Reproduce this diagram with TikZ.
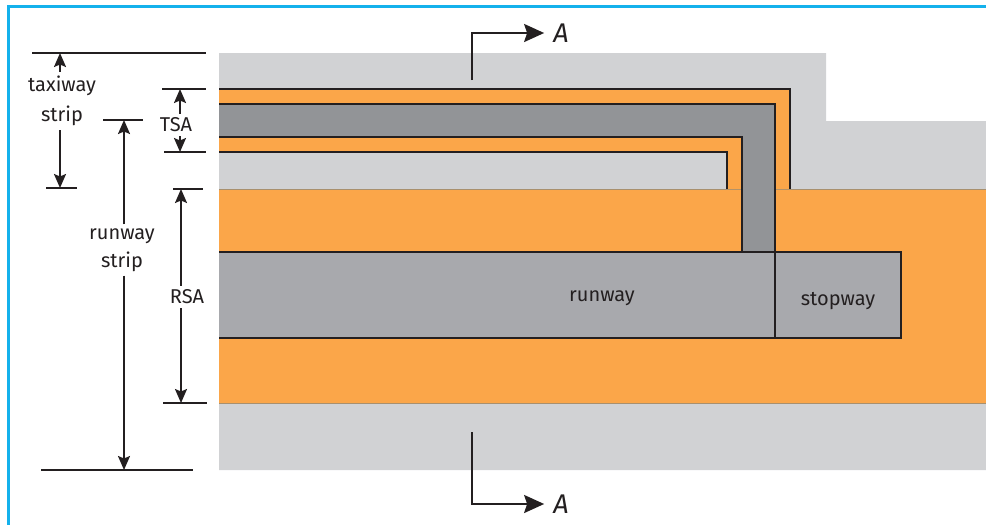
\documentclass[tikz,border=0pt]{standalone}
\usepackage{fontspec}
\setmainfont{Fira Sans}
\usetikzlibrary{arrows.meta}
\definecolor{framecolor}{HTML}{14B1EC}
\definecolor{stripgrey}{HTML}{D1D2D4}
\definecolor{safeorange}{HTML}{FBA649}
\definecolor{taxigrey}{HTML}{929497}
\definecolor{runwaygrey}{HTML}{A8A9AD}
\definecolor{inkblack}{HTML}{231F20}
\definecolor{edgebrown}{HTML}{A8906E}
\tikzset{
	tickline/.style={draw=inkblack, line width=2pt},
	dimarrow/.style={draw=inkblack, line width=1.9pt, -{Stealth[length=14pt,width=12pt,inset=2.5pt]}},
	sectionarrow/.style={draw=inkblack, line width=2.2pt, shorten >=9pt, -{Stealth[length=20pt,width=18pt,inset=3pt]}},
	pave/.style={draw=inkblack, line width=2.2pt},
	slab/.style={draw=inkblack, line width=2.8pt, fill=runwaygrey},
	dimlabel/.style={font=\fontsize{20}{28}\selectfont, text=inkblack, align=center, inner sep=4pt},
	sectionmark/.style={font=\fontsize{27}{27}\selectfont\itshape, text=inkblack, inner sep=0pt}
}
\begin{document}
\begin{tikzpicture}[x=1pt, y=-1pt]
	\useasboundingbox (0,0) rectangle (986,525);
	\draw [framecolor, line width=3pt] (8.5,525) -- (8.5,6.5) -- (986,6.5);

	% grounds
	\fill [stripgrey] (219,53) -- (826,53) -- (826,121) -- (986,121) -- (986,470) -- (219,470) -- cycle;
	\fill [safeorange] (219,189) rectangle (986,403);
	\draw [edgebrown, line width=0.8pt] (219,189) -- (986,189) (219,403) -- (986,403);

	% taxiway
	\fill [safeorange] (219,89) -- (790,89) -- (790,189) -- (727,189) -- (727,152) -- (219,152) -- cycle;
	\draw [pave] (219,89) -- (790,89) -- (790,189);
	\draw [pave] (219,152) -- (727,152) -- (727,189);
	\fill [taxigrey] (219,104) -- (775,104) -- (775,252) -- (742,252) -- (742,137) -- (219,137) -- cycle;
	\draw [pave] (219,104) -- (775,104) -- (775,252);
	\draw [pave] (219,137) -- (742,137) -- (742,252);

	% runway and stopway
	\fill [runwaygrey] (219,252) rectangle (775,338);
	\draw [pave, line width=2.8pt] (219,252) -- (775,252) (219,338) -- (775,338);
	\node [slab, minimum width=126pt, minimum height=86pt, inner sep=0pt, outer sep=0pt] (stopwaybox) at (838,295) {};
	\node [dimlabel] (runwaylabel) at (602,298) {runway};
	\node [dimlabel] (stopwaylabel) at (838,301) {stopway};

	% ticks
	\coordinate (taxitop) at (60,53);
	\coordinate (taxibot) at (60,188);
	\coordinate (tsatop) at (180,89);
	\coordinate (tsabot) at (180,152);
	\coordinate (rsatop) at (181,189);
	\coordinate (rsabot) at (181,403);
	\coordinate (striptop) at (124,120);
	\coordinate (stripbot) at (124,470);
	\draw [tickline] (32,53) -- (206,53);
	\draw [tickline] (46,188) -- (77,188);
	\draw [tickline] (162,89) -- (206,89);
	\draw [tickline] (164,152) -- (206,152);
	\draw [tickline] (173,189) -- (203,189);
	\draw [tickline] (163,403) -- (207,403);
	\draw [tickline] (103,120) -- (143,120);
	\draw [tickline] (41,470) -- (193,470);

	% dimensions
	\node [dimlabel] (taxilabel) at (62,101) {taxiway\\[2pt]strip};
	\node [dimlabel] (tsalabel) at (176,125) {TSA};
	\node [dimlabel] (rsalabel) at (187,297) {RSA};
	\node [dimlabel] (striplabel) at (122,250) {runway\\strip};
	\draw [dimarrow] (taxilabel.north -| taxitop) -- (taxitop);
	\draw [dimarrow] (taxilabel.south -| taxitop) -- (taxibot);
	\draw [dimarrow] (tsalabel.north -| tsatop) -- (tsatop);
	\draw [dimarrow] (tsalabel.south -| tsatop) -- (tsabot);
	\draw [dimarrow] (rsalabel.north -| rsatop) -- (rsatop);
	\draw [dimarrow] (rsalabel.south -| rsatop) -- (rsabot);
	\draw [dimarrow] (striplabel.north -| striptop) -- (striptop);
	\draw [dimarrow] (striplabel.south -| stripbot) -- (stripbot);

	% section marks
	\node [sectionmark] (topmark) at (561,33) {A};
	\node [sectionmark] (botmark) at (561,504) {A};
	\coordinate (topfoot) at (472,80);
	\coordinate (botfoot) at (472,432);
	\draw [sectionarrow] (topfoot) |- (topmark.west);
	\draw [sectionarrow] (botfoot) |- (botmark.west);
\end{tikzpicture}
\end{document}
